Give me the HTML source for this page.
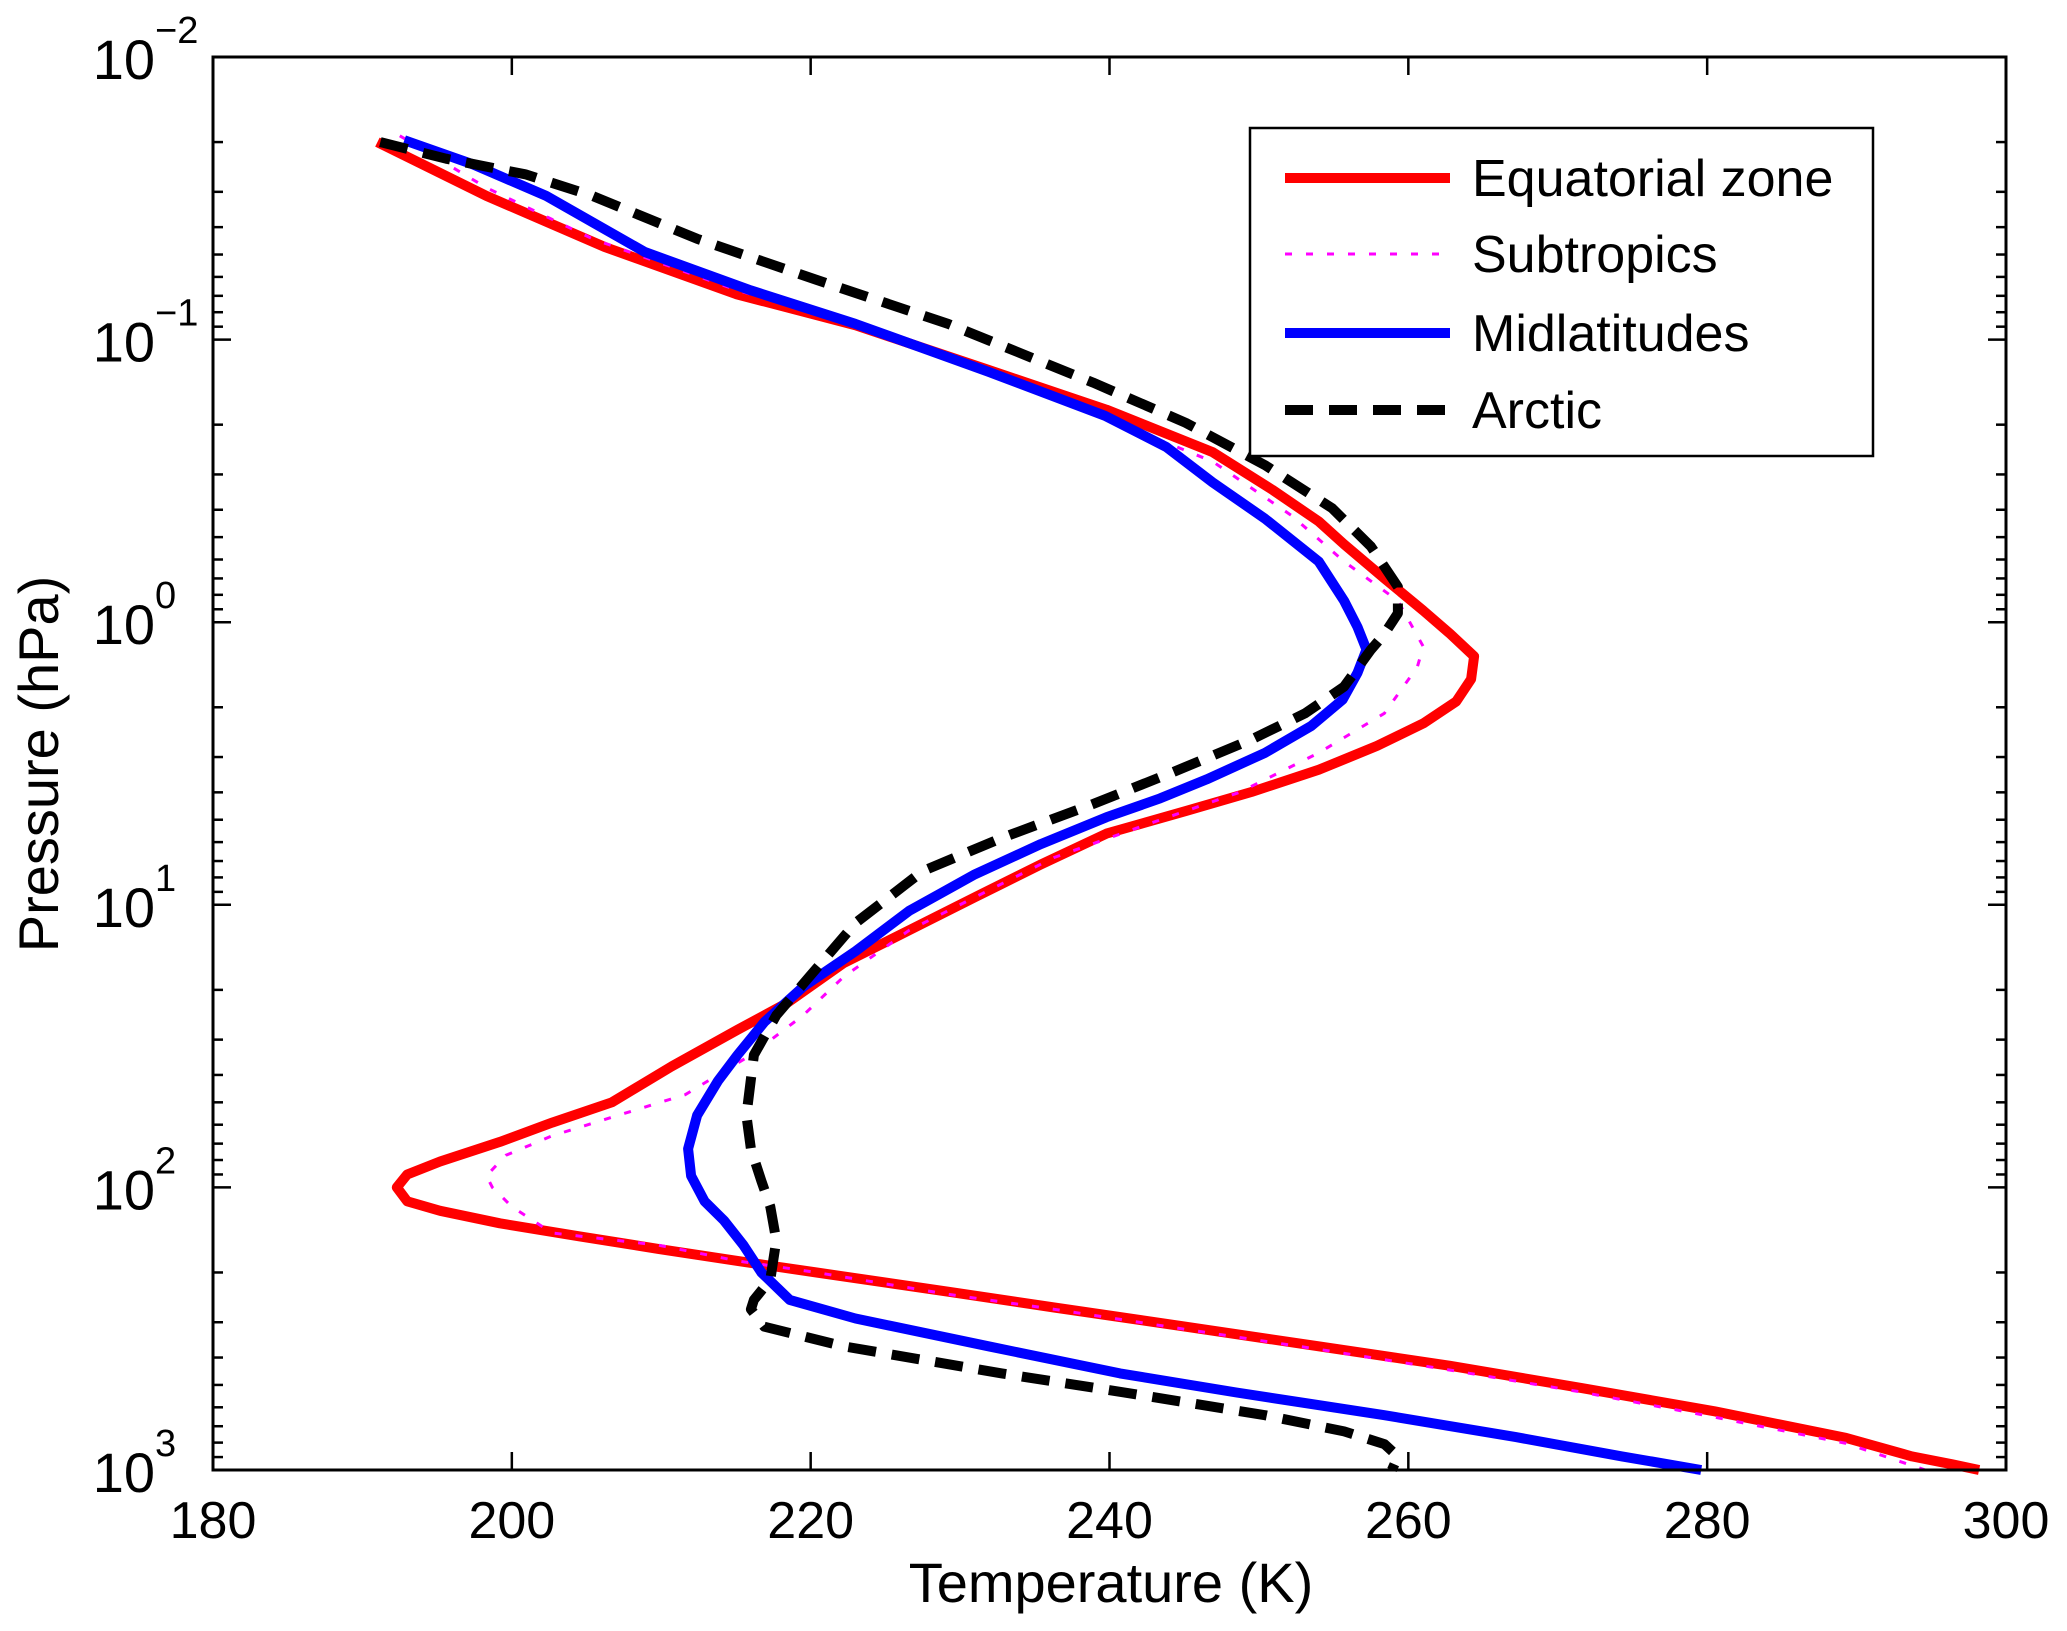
<!DOCTYPE html>
<html><head><meta charset="utf-8"><style>
html,body{margin:0;padding:0;background:#fff;}
svg{display:block;font-family:"Liberation Sans",Arial,sans-serif;}
</style></head><body>
<svg id="chart" width="2067" height="1631" viewBox="0 0 2067 1631" xmlns="http://www.w3.org/2000/svg" style="position:absolute;left:0;top:0">
<rect x="0" y="0" width="2067" height="1631" fill="#fff"/>
<g id="marks"></g>
<g id="axes"></g>
</svg>
<script>
const xTicks = [180, 200, 220, 240, 260, 280, 300];
const yTickExps = [-2, -1, 0, 1, 2, 3];
const seriesNames = ["Equatorial zone", "Subtropics", "Midlatitudes", "Arctic"];

const eqT = [191.0,198.3,206.2,215.0,223.0,231.9,239.8,246.9,250.9,254.0,255.7,258.4,261.0,262.8,264.4,264.2,263.2,261.0,257.9,254.0,249.5,245.1,239.8,235.4,231.0,226.6,222.2,218.4,215.1,210.7,206.7,202.7,199.2,195.2,193.0,192.3,193.0,195.2,199.2,204.5,209.8,215.1,220.4,229.2,236.3,245.1,254.0,262.8,271.6,280.5,289.3,293.7,296.4,298.2];
const eqP = [0.02,0.031,0.047,0.069,0.089,0.128,0.177,0.25,0.34,0.44,0.53,0.70,0.91,1.10,1.32,1.59,1.91,2.28,2.74,3.33,3.99,4.66,5.6,7.2,9.4,12.3,16.1,22.3,27.7,37.3,50,59,69,81,90,100,112,121,134,149,165,182,200,234,266,311,365,428,513,620,770,895,955,1000];

const stT = [192.5,198.3,205.4,215.1,223.0,231.9,239.8,246.9,252.2,255.7,259.3,261.0,260.6,258.4,254.0,248.7,242.5,236.3,231.0,226.6,222.2,219.5,216.0,211.6,207.1,202.7,199.6,198.3,198.7,200.0,202.7,209.8,215.1,220.4,229.2,236.3,245.1,254.0,262.8,271.6,280.5,289.3,294.6];
const stP = [0.019,0.029,0.044,0.067,0.088,0.128,0.19,0.27,0.42,0.61,0.84,1.22,1.44,2.1,2.9,4.0,5.2,6.8,9.4,12.3,18,24.6,34,47,55.6,65.7,77,91,100,117,145,160,182,200,239,270,318,374,443,530,650,805,1000];

const mlT = [192.8,197.4,202.3,208.9,216.0,223.0,231.9,239.7,243.8,246.9,250.4,254.0,255.7,256.6,257.2,256.6,255.6,253.5,250.4,246.5,243.4,239.8,235.4,231.0,226.6,223.0,219.5,216.9,215.1,213.8,212.4,211.8,212.0,212.9,214.2,215.5,216.7,218.6,223.0,231.9,240.7,248.5,258.4,267.2,274.3,279.6];
const mlP = [0.0197,0.024,0.031,0.049,0.067,0.088,0.13,0.186,0.24,0.32,0.43,0.61,0.84,1.04,1.25,1.51,1.88,2.33,2.9,3.6,4.2,4.9,6.1,7.8,10.5,14.6,19.5,26,34,42,55.6,73,91,112,131,160,200,250,291,365,455,532,640,765,895,1000];

const arT = [191.2,195.6,200.9,205.4,212.4,220.4,229.2,238.9,245.1,250.4,254.9,257.5,259.3,259.3,258.4,257.5,255.7,253.1,249.5,244.2,238.9,232.8,227.5,223.0,219.9,217.7,216.2,215.7,216.0,216.7,217.3,217.7,217.3,216.2,216.0,216.9,222.2,232.8,241.6,250.4,255.7,258.4,259.3,258.9];
const arP = [0.02,0.0229,0.026,0.031,0.044,0.0615,0.088,0.142,0.197,0.278,0.395,0.54,0.75,0.93,1.1,1.25,1.69,2.1,2.6,3.4,4.4,5.8,7.6,11.6,18,24.6,34,55.6,73,95,117,154,212,250,270,311,365,455,538,640,730,810,895,1000];

const L = 213, R = 2006, T = 57, B = 1470;
const xMin = 180, xMax = 300, yMinExp = -2, yMaxExp = 3;
function xs(v){ return L + (v - xMin) / (xMax - xMin) * (R - L); }
function ys(p){ return T + (Math.log10(p) - yMinExp) / (yMaxExp - yMinExp) * (B - T); }

const NS = "http://www.w3.org/2000/svg";
const marks = document.getElementById('marks');
const axes = document.getElementById('axes');
function mk(tag, attrs, parent){
  const e = document.createElementNS(NS, tag);
  for (const k in attrs) e.setAttribute(k, attrs[k]);
  parent.appendChild(e); return e;
}
function pathFrom(tArr, pArr){
  let d = '';
  for (let i = 0; i < tArr.length; i++) d += (i ? 'L' : 'M') + xs(tArr[i]).toFixed(1) + ',' + ys(pArr[i]).toFixed(1);
  return d;
}
const styles = [
  {stroke:'#ff0000', w:10, dash:null},
  {stroke:'#ff00ff', w:3, dash:'7 14'},
  {stroke:'#0000ff', w:10, dash:null},
  {stroke:'#000000', w:10, dash:'28 16'}
];
const dataT = [eqT, stT, mlT, arT];
const dataP = [eqP, stP, mlP, arP];
const lineNames = ['equatorial-line','subtropics-line','midlatitudes-line','arctic-line'];
[0, 1, 2, 3].forEach(i => {
  const st = styles[i];
  const p = mk('path', {d: pathFrom(dataT[i], dataP[i]), fill:'none', stroke: st.stroke, 'stroke-width': st.w, 'stroke-linejoin':'round'}, marks);
  if (st.dash) p.setAttribute('stroke-dasharray', st.dash);
  
  
});

const box = mk('rect', {x:L, y:T, width:R-L, height:B-T, fill:'none', stroke:'#000', 'stroke-width':3}, axes);



xTicks.forEach(v => {
  const x = xs(v);
  mk('line', {x1:x, y1:B, x2:x, y2:B-18, stroke:'#000', 'stroke-width':2.5}, axes);
  mk('line', {x1:x, y1:T, x2:x, y2:T+18, stroke:'#000', 'stroke-width':2.5}, axes);
  const t = mk('text', {x:x, y:B+68, 'font-size':52, 'text-anchor':'middle', fill:'#000'}, axes);
  t.textContent = v;
  
  
});
yTickExps.forEach((e, idx) => {
  const y = ys(Math.pow(10, e));
  mk('line', {x1:L, y1:y, x2:L+18, y2:y, stroke:'#000', 'stroke-width':2.5}, axes);
  mk('line', {x1:R, y1:y, x2:R-18, y2:y, stroke:'#000', 'stroke-width':2.5}, axes);
  if (idx < yTickExps.length - 1) {
    for (let m = 2; m <= 9; m++) {
      const yy = ys(m * Math.pow(10, e));
      mk('line', {x1:L, y1:yy, x2:L+10, y2:yy, stroke:'#000', 'stroke-width':2.5}, axes);
      mk('line', {x1:R, y1:yy, x2:R-10, y2:yy, stroke:'#000', 'stroke-width':2.5}, axes);
    }
  }
  const t = mk('text', {x:L-58, y:y+22, 'font-size':56, 'text-anchor':'end', fill:'#000'}, axes);
  t.textContent = '10';
  
  
  const s = mk('text', {x:L-58, y:y-14, 'font-size':38, 'text-anchor':'start', fill:'#000'}, axes);
  s.textContent = (e < 0 ? '\u2212' : '') + Math.abs(e);
  
  
});
</script>
<svg style="position:absolute;left:0;top:0" width="2067" height="1631">
<text x="1111" y="1602" font-family="Liberation Sans, Arial, sans-serif" font-size="56" text-anchor="middle">Temperature (K)</text>
<text x="0" y="0" transform="translate(58,764) rotate(-90)" font-family="Liberation Sans, Arial, sans-serif" font-size="56" text-anchor="middle">Pressure (hPa)</text>
<g font-family="Liberation Sans, Arial, sans-serif" font-size="52">
<rect x="1250" y="128" width="623" height="328" fill="#fff" stroke="#000" stroke-width="2.5"/>
<line x1="1285" y1="178" x2="1450" y2="178" stroke="#ff0000" stroke-width="10"/>
<text x="1472" y="196">Equatorial zone</text>
<line x1="1285" y1="254" x2="1450" y2="254" stroke="#ff00ff" stroke-width="3" stroke-dasharray="7 14"/>
<text x="1472" y="272">Subtropics</text>
<line x1="1285" y1="333" x2="1450" y2="333" stroke="#0000ff" stroke-width="10"/>
<text x="1472" y="351">Midlatitudes</text>
<line x1="1285" y1="410" x2="1450" y2="410" stroke="#000" stroke-width="10" stroke-dasharray="28 16"/>
<text x="1472" y="428">Arctic</text>
</g>
</svg>
</body></html>
